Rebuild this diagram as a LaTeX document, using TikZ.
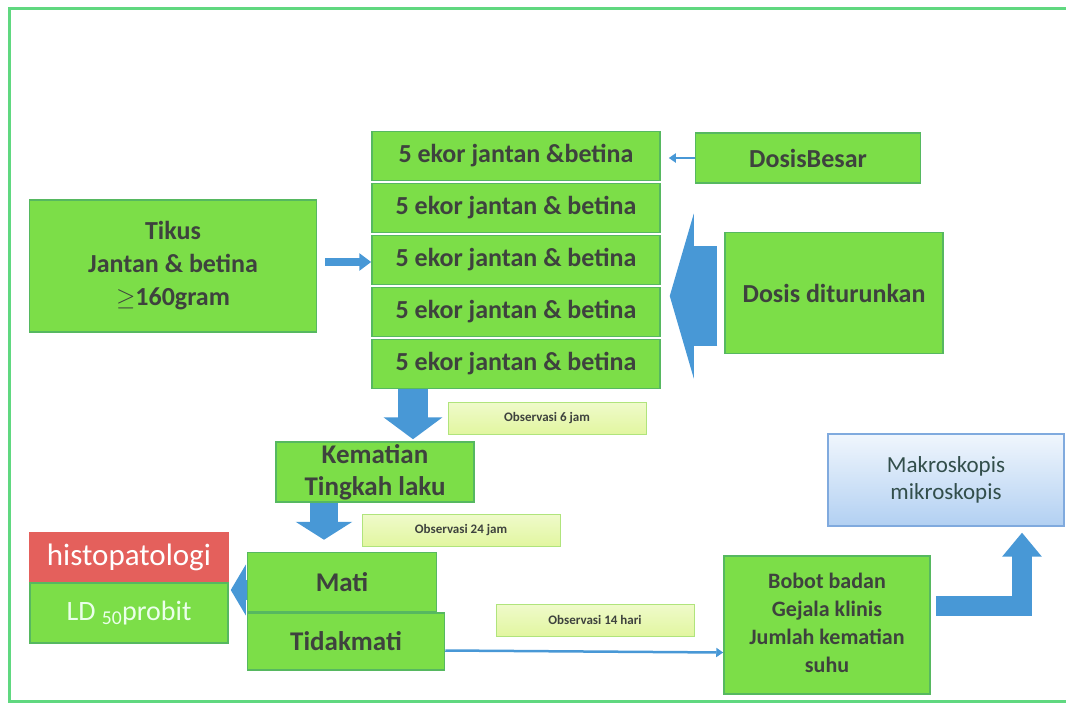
\documentclass[tikz,border=0pt]{standalone}
\usepackage{fontspec}
\setmainfont{Carlito}
\usetikzlibrary{positioning}
\usetikzlibrary{calc}
\usetikzlibrary{arrows.meta}
\definecolor{boxgreen}{RGB}{124,222,72}
\definecolor{edgegreen}{RGB}{86,184,96}
\definecolor{txtgrey}{RGB}{62,66,62}
\definecolor{arrowblue}{RGB}{72,152,214}
\definecolor{histred}{RGB}{228,96,92}
\definecolor{obsfill}{RGB}{226,246,160}
\definecolor{obsedge}{RGB}{176,228,124}
\definecolor{makrotop}{RGB}{240,246,253}
\definecolor{makrobot}{RGB}{178,208,242}
\definecolor{makroedge}{RGB}{128,170,222}
\definecolor{framegreen}{RGB}{96,216,128}
\tikzset{box/.style={draw=edgegreen, line width=1.5pt, fill=boxgreen, text=txtgrey,
    font=\fontsize{26}{33}\selectfont\bfseries, align=center, inner sep=2pt}}
\tikzset{ekor/.style={box, minimum width=288pt, minimum height=49pt}}
\tikzset{obs/.style={draw=obsedge, line width=1pt, top color=obsfill!55!white, bottom color=obsfill,
    text=txtgrey, font=\fontsize{13}{15}\selectfont\bfseries, minimum width=198pt, minimum height=32pt}}
\tikzset{makro/.style={draw=makroedge, line width=1.2pt, top color=makrotop, bottom color=makrobot,
    text=txtgrey!80!teal, font=\fontsize{23}{27}\selectfont, align=center,
    minimum width=236pt, minimum height=92pt}}
\tikzset{blok/.style n args={3}{draw=arrowblue, line width=#1,
    -{Triangle[width=#2, length=#3]}}}
\tikzset{tipis/.style={draw=arrowblue, line width=2.5pt, -{Triangle[width=9pt, length=7pt]}}}

\begin{document}
\begin{tikzpicture}[x=1pt, y=-1pt]
\useasboundingbox (0,0) rectangle (1066,704);
\clip (0,0) rectangle (1066,704);
\draw[framegreen, line width=3pt] (9,8) rectangle (1080,701);

% kelompok dosis
\node[ekor] (s1) at (516,156) {5 ekor jantan \&betina};
\node[ekor, below=1.5pt of s1] (s2) {5 ekor jantan \& betina};
\node[ekor, below=1.5pt of s2] (s3) {5 ekor jantan \& betina};
\node[ekor, below=1.5pt of s3] (s4) {5 ekor jantan \& betina};
\node[ekor, below=1.5pt of s4] (s5) {5 ekor jantan \& betina};

\node[box, minimum width=225pt, minimum height=50pt] (besar) at (808,158) {DosisBesar};
\node[box, minimum width=287pt, minimum height=132pt] (tikus) at (173,266)
  {Tikus\\Jantan \& betina\\$\geq$160gram};
\node[box, minimum width=218pt, minimum height=121pt] (turun) at (834,293) {Dosis diturunkan};

% pengamatan
\node[box, minimum width=198pt, minimum height=60pt, font=\fontsize{27}{32}\selectfont\bfseries]
  (kem) at (375,472) {Kematian\\Tingkah laku};
\node[box, minimum width=189pt, minimum height=59pt, font=\fontsize{27}{30}\selectfont\bfseries]
  (mati) at (342,582) {Mati};
\node[box, minimum width=197pt, minimum height=57pt, anchor=north west,
  font=\fontsize{27}{30}\selectfont\bfseries] (tidak) at (mati.south west) {Tidakmati};
\node[box, draw=histred, fill=histred, text=white, minimum width=198pt, minimum height=49pt,
  font=\fontsize{31}{34}\selectfont] (histo) at (129,557) {histopatologi};
\node[box, text=white!92!green, minimum width=198pt, minimum height=60pt, anchor=north,
  font=\fontsize{28}{30}\selectfont] (ld) at (histo.south) {LD \textsubscript{50}probit};
\node[box, minimum width=206pt, minimum height=138pt, font=\fontsize{22}{28}\selectfont\bfseries]
  (bobot) at (827,625) {\\[-16pt]Bobot badan\\Gejala klinis\\Jumlah kematian\\suhu};
\node[makro] (mak) at (946,480) {Makroskopis\\mikroskopis};

\node[obs] (o1) at (547,418) {Observasi 6 jam};
\node[obs] (o2) at (461,530) {Observasi 24 jam};
\node[obs] (o3) at (595,620) {Observasi 14 hari};

% panah
\draw[blok={8pt}{17pt}{12pt}] ($(tikus.east)+(8,-4)$) -- ($(tikus.east -| s3.west)+(0,-4)$);
\draw[tipis] (besar.west) -- ($(besar.west -| s1.east)+(8,0)$);
\draw[blok={100pt}{164pt}{24pt}] ($(turun.west)+(-7,3)$) -- ($(turun.west -| s3.east)+(9,3)$);

\coordinate (d1) at (413,389);
\draw[blok={30pt}{58pt}{22pt}] (d1) -- ($(d1 |- kem.north)+(0,-2)$);
\coordinate (d2) at (324,503);
\draw[blok={28pt}{56pt}{18pt}] (d2) -- ($(d2 |- mati.north)+(0,-12)$);

\draw[blok={20pt}{50pt}{15pt}] ($(mati.west)+(0,8)$) -- ($(ld.east |- mati.west)+(2,8)$);
\draw[tipis] ($(tidak.east)+(0,9)$) -- ($(bobot.west |- tidak.east)+(0,11)$);
\draw[blok={20pt}{38pt}{24pt}, line join=miter] ($(bobot.east)+(5,-19)$) -| ($(mak.south)+(76,6)$);
\end{tikzpicture}
\end{document}
